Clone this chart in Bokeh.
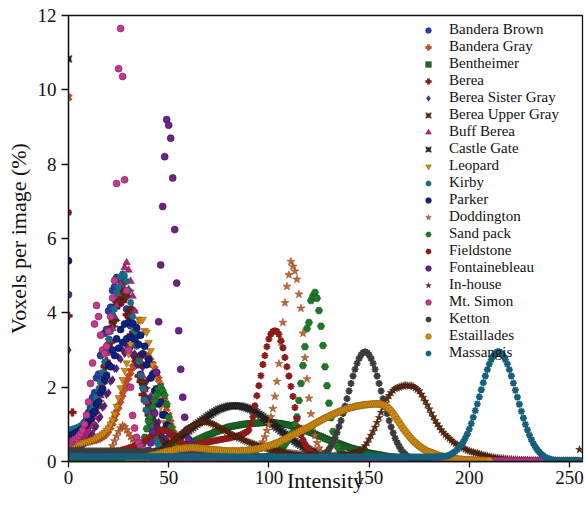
import math
from bokeh.plotting import figure
from bokeh.models import ColumnDataSource, Legend, LegendItem, FixedTicker
from bokeh.embed import file_html
from bokeh.resources import INLINE

# ---------------- data: voxel fraction (%) per intensity value ----------------
x_ticks = [0, 50, 100, 150, 200, 250]
y_ticks = [0, 2, 4, 6, 8, 10, 12]

bandera_brown_start = 0
bandera_brown = [4.49, 0.62, 0.66, 0.68, 0.74, 0.78, 0.86, 0.92, 1.05, 1.12,
                 1.32, 1.45, 1.72, 1.85, 2.25, 2.35, 2.85, 2.95, 3.45, 3.55,
                 4.05, 4.15, 4.6, 4.7, 4.95, 4.9, 4.88, 4.6, 4.55, 4.1,
                 3.95, 3.65, 3.35, 3.15, 2.8, 2.6, 2.35, 2.1, 1.95, 1.7,
                 1.55, 1.35, 1.22, 1.05, 0.95, 0.82, 0.74, 0.63, 0.57, 0.49,
                 0.44, 0.38, 0.34, 0.3, 0.27, 0.24, 0.21, 0.19, 0.17, 0.15,
                 0.14, 0.12, 0.11, 0.1, 0.09, 0.08]

bandera_gray_start = 0
bandera_gray = [9.8, 0.45, 0.46, 0.46, 0.47, 0.48, 0.49, 0.5, 0.51, 0.52,
                0.53, 0.54, 0.56, 0.57, 0.59, 0.61, 0.64, 0.67, 0.71, 0.77,
                0.84, 0.93, 1.04, 1.17, 1.32, 1.48, 1.64, 1.8, 1.96, 2.12,
                2.27, 2.41, 2.54, 2.65, 2.74, 2.8, 2.85, 2.87, 2.87, 2.84,
                2.79, 2.71, 2.61, 2.49, 2.36, 2.21, 2.04, 1.86, 1.64, 1.43,
                1.24, 1.05, 0.88, 0.73, 0.6, 0.48, 0.39, 0.31, 0.25, 0.2,
                0.16, 0.13, 0.1, 0.08, 0.07, 0.06]

bentheimer_start = 0
bentheimer = [0.1, 0.1, 0.1, 0.1, 0.1, 0.11, 0.11, 0.11, 0.11, 0.11,
              0.11, 0.11, 0.11, 0.12, 0.12, 0.12, 0.12, 0.12, 0.13, 0.13,
              0.13, 0.13, 0.14, 0.14, 0.14, 0.14, 0.15, 0.15, 0.15, 0.16,
              0.16, 0.16, 0.17, 0.17, 0.18, 0.19, 0.19, 0.2, 0.21, 0.21,
              0.22, 0.23, 0.24, 0.25, 0.26, 0.27, 0.28, 0.3, 0.31, 0.32,
              0.33, 0.34, 0.36, 0.37, 0.38, 0.4, 0.41, 0.43, 0.44, 0.46,
              0.47, 0.5, 0.52, 0.55, 0.57, 0.6, 0.62, 0.65, 0.67, 0.7,
              0.72, 0.74, 0.76, 0.79, 0.81, 0.83, 0.85, 0.87, 0.89, 0.91,
              0.93, 0.94, 0.95, 0.96, 0.97, 0.98, 0.99, 1.0, 1.01, 1.01,
              1.02, 1.02, 1.03, 1.03, 1.03, 1.04, 1.04, 1.04, 1.05, 1.05,
              1.05, 1.05, 1.04, 1.04, 1.03, 1.03, 1.02, 1.01, 1.0, 0.99,
              0.98, 0.96, 0.95, 0.93, 0.91, 0.89, 0.87, 0.85, 0.83, 0.82,
              0.8, 0.78, 0.76, 0.74, 0.71, 0.69, 0.67, 0.65, 0.62, 0.6,
              0.58, 0.56, 0.54, 0.52, 0.5, 0.48, 0.46, 0.44, 0.42, 0.4,
              0.38, 0.36, 0.35, 0.33, 0.32, 0.3, 0.29, 0.27, 0.26, 0.24,
              0.23, 0.22, 0.21, 0.2, 0.19, 0.18, 0.17, 0.16, 0.15, 0.14,
              0.13, 0.13, 0.12, 0.12, 0.11, 0.11, 0.1, 0.1, 0.09, 0.09,
              0.08, 0.08, 0.08, 0.07, 0.07, 0.07, 0.06, 0.06, 0.06, 0.05,
              0.05, 0.05, 0.05, 0.04, 0.04, 0.04, 0.04, 0.03, 0.03, 0.03, 0.03]

berea_start = 0
berea = [3.92, 0.55, 1.32, 0.6, 0.62, 0.66, 0.7, 0.76, 0.82, 0.9,
         1.0, 1.1, 1.24, 1.38, 1.56, 1.75, 2.0, 2.2, 2.55, 2.7,
         3.15, 3.25, 3.75, 3.8, 4.3, 4.2, 4.45, 4.3, 4.4, 3.95,
         3.9, 3.4, 3.3, 2.85, 2.7, 2.3, 2.15, 1.8, 1.65, 1.38,
         1.25, 1.02, 0.93, 0.75, 0.68, 0.55, 0.5, 0.4, 0.37, 0.3,
         0.27, 0.23, 0.21, 0.18, 0.16, 0.14, 0.12, 0.11, 0.1, 0.09, 0.08]

berea_sister_gray_start = 0
berea_sister_gray = [3.0, 0.3, 0.32, 0.33, 0.35, 0.38, 0.4, 0.45, 0.48, 0.55,
                     0.6, 0.7, 0.75, 0.9, 0.95, 1.15, 1.2, 1.45, 1.5, 1.8,
                     1.85, 2.15, 2.2, 2.5, 2.5, 2.8, 2.75, 3.0, 2.9, 3.1,
                     2.95, 3.05, 2.85, 2.9, 2.6, 2.75, 2.3, 2.53, 1.95, 2.15,
                     1.55, 1.75, 1.2, 1.35, 0.95, 1.06, 0.72, 0.85, 0.55, 0.62,
                     0.42, 0.45, 0.32, 0.34, 0.25, 0.26, 0.2, 0.2, 0.16, 0.15, 0.12]

berea_upper_gray_start = 0
berea_upper_gray = [0.65, 0.66, 0.67, 0.69, 0.71, 0.73, 0.76, 0.8, 0.85, 0.9,
                    0.98, 1.06, 1.17, 1.3, 1.45, 1.63, 1.85, 2.1, 2.38, 2.6,
                    3.0, 3.2, 3.64, 3.8, 4.22, 4.3, 4.65, 4.5, 4.82, 4.45,
                    4.6, 4.1, 4.06, 3.5, 3.36, 2.8, 2.64, 2.15, 1.98, 1.6,
                    1.44, 1.15, 1.03, 0.82, 0.74, 0.6, 0.54, 0.45, 0.41, 0.35,
                    0.32, 0.28, 0.25, 0.22, 0.2, 0.18, 0.16, 0.14, 0.13, 0.12, 0.11]

buff_berea_start = 0
buff_berea = [0.55, 0.56, 0.57, 0.58, 0.6, 0.62, 0.65, 0.68, 0.72, 0.78,
              0.85, 0.95, 1.06, 1.2, 1.36, 1.55, 1.77, 2.02, 2.3, 2.6,
              2.92, 3.25, 3.58, 3.9, 4.2, 4.5, 4.78, 5.02, 5.22, 5.35,
              5.15, 4.85, 4.45, 4.05, 3.6, 3.15, 2.7, 2.3, 1.93, 1.6,
              1.32, 1.08, 0.88, 0.72, 0.59, 0.48, 0.4, 0.33, 0.28, 0.24,
              0.2, 0.17, 0.15, 0.13, 0.11, 0.1, 0.09, 0.08, 0.07, 0.06, 0.05]

castle_gate_start = 0
castle_gate = [10.83, 0.0, 0.0, 0.0, 0.0, 0.0, 0.0, 0.0, 0.0, 0.0,
               0.0, 0.0, 0.0, 0.0, 0.0, 0.0, 0.01, 0.01, 0.01, 0.01,
               0.01, 0.02, 0.02, 0.02, 0.03, 0.03, 0.04, 0.04, 0.05, 0.06,
               0.06, 0.07, 0.08, 0.09, 0.1, 0.11, 0.12, 0.14, 0.15, 0.17,
               0.18, 0.2, 0.22, 0.25, 0.27, 0.29, 0.32, 0.35, 0.37, 0.4,
               0.44, 0.47, 0.5, 0.54, 0.58, 0.62, 0.66, 0.7, 0.74, 0.78,
               0.82, 0.87, 0.91, 0.95, 1.0, 1.04, 1.08, 1.12, 1.16, 1.2,
               1.24, 1.27, 1.31, 1.34, 1.37, 1.4, 1.42, 1.44, 1.46, 1.47,
               1.49, 1.49, 1.5, 1.5, 1.5, 1.49, 1.49, 1.47, 1.46, 1.44,
               1.42, 1.4, 1.37, 1.34, 1.31, 1.27, 1.24, 1.2, 1.16, 1.12,
               1.08, 1.04, 1.0, 0.95, 0.91, 0.87, 0.82, 0.78, 0.74, 0.7,
               0.66, 0.62, 0.58, 0.54, 0.5, 0.47, 0.44, 0.4, 0.37, 0.35,
               0.32, 0.29, 0.27, 0.25, 0.22, 0.2, 0.18, 0.17, 0.15, 0.14,
               0.12, 0.11, 0.1, 0.09, 0.08, 0.07, 0.06, 0.06, 0.05, 0.04,
               0.04, 0.03, 0.03, 0.03, 0.02, 0.02, 0.02, 0.02, 0.01, 0.01, 0.01]

leopard_start = 0
leopard = [0.45, 0.46, 0.46, 0.47, 0.48, 0.49, 0.5, 0.51, 0.52, 0.54,
           0.55, 0.57, 0.59, 0.61, 0.64, 0.67, 0.7, 0.74, 0.78, 0.84,
           0.9, 1.0, 1.12, 1.28, 1.48, 1.72, 1.98, 2.2, 2.45, 2.65,
           2.9, 3.15, 3.35, 3.54, 3.7, 3.83, 3.8, 3.82, 3.52, 3.48,
           3.2, 2.98, 2.6, 2.3, 1.98, 1.72, 1.48, 1.3, 1.05, 0.9,
           0.76, 0.65, 0.55, 0.47, 0.4, 0.35, 0.3, 0.26, 0.23, 0.2,
           0.18, 0.16, 0.14, 0.13, 0.12, 0.11, 0.1, 0.09, 0.08, 0.08, 0.07]

kirby_start = 0
kirby = [0.85, 0.86, 0.87, 0.89, 0.91, 0.93, 0.96, 1.0, 1.05, 1.12,
         1.2, 1.3, 1.42, 1.56, 1.73, 1.93, 2.15, 2.4, 2.68, 2.98,
         3.3, 3.5, 3.95, 4.1, 4.55, 4.7, 4.97, 5.05, 5.0, 4.85,
         4.6, 4.28, 3.9, 3.5, 3.1, 2.7, 2.32, 1.97, 1.66, 1.38,
         1.14, 0.94, 0.78, 0.64, 0.53, 0.44, 0.37, 0.31, 0.27, 0.23,
         0.2, 0.18, 0.16, 0.14, 0.13, 0.12, 0.11, 0.1, 0.09, 0.09, 0.08]

parker_start = 0
parker = [5.4, 0.7, 0.72, 0.75, 0.78, 0.8, 0.85, 0.88, 0.95, 1.0,
          1.1, 1.15, 1.3, 1.35, 1.55, 1.6, 1.85, 1.95, 2.2, 2.3,
          2.6, 2.55, 3.0, 2.85, 3.3, 3.05, 3.55, 3.2, 3.7, 3.3,
          3.75, 3.35, 3.72, 3.3, 3.6, 3.15, 3.4, 2.9, 3.1, 2.6,
          2.75, 2.25, 2.35, 1.9, 1.95, 1.55, 1.6, 1.25, 1.25, 0.98,
          0.95, 0.75, 0.72, 0.57, 0.54, 0.43, 0.4, 0.32, 0.3, 0.24,
          0.22, 0.18, 0.16, 0.13, 0.12, 0.1]

doddington_start = 0
doddington = [0.06, 0.06, 0.06, 0.06, 0.06, 0.06, 0.06, 0.06, 0.06, 0.06,
              0.07, 0.07, 0.07, 0.07, 0.08, 0.08, 0.09, 0.1, 0.12, 0.16,
              0.22, 0.31, 0.42, 0.55, 0.68, 0.8, 0.9, 0.97, 0.93, 0.85,
              0.76, 0.67, 0.59, 0.52, 0.46, 0.4, 0.35, 0.3, 0.26, 0.22,
              0.19, 0.17, 0.15, 0.14, 0.13, 0.12, 0.12, 0.12, 0.12, 0.12,
              0.12, 0.12, 0.12, 0.12, 0.12, 0.12, 0.12, 0.12, 0.12, 0.12,
              0.11, 0.11, 0.11, 0.11, 0.11, 0.11, 0.11, 0.11, 0.11, 0.11,
              0.11, 0.11, 0.11, 0.11, 0.11, 0.11, 0.11, 0.11, 0.11, 0.11,
              0.11, 0.11, 0.11, 0.11, 0.11, 0.11, 0.11, 0.12, 0.12, 0.13,
              0.14, 0.15, 0.18, 0.22, 0.28, 0.35, 0.43, 0.52, 0.66, 0.83,
              1.0, 1.2, 1.42, 1.75, 2.15, 2.63, 3.2, 3.74, 4.27, 4.71,
              5.02, 5.38, 5.25, 5.12, 4.9, 4.5, 4.12, 3.45, 2.79, 2.22,
              1.7, 1.28, 0.95, 0.7, 0.5, 0.36, 0.26, 0.19, 0.14, 0.1,
              0.08, 0.06, 0.05, 0.04, 0.03, 0.03]

sand_pack_start = 0
sand_pack = [0.05, 0.05, 0.05, 0.05, 0.05, 0.05, 0.05, 0.05, 0.05, 0.05,
             0.05, 0.05, 0.05, 0.05, 0.05, 0.06, 0.06, 0.06, 0.06, 0.06,
             0.06, 0.06, 0.06, 0.07, 0.07, 0.07, 0.07, 0.07, 0.08, 0.08,
             0.08, 0.09, 0.1, 0.12, 0.15, 0.2, 0.3, 0.45, 0.65, 0.88,
             1.08, 1.22, 1.46, 1.64, 1.8, 1.95, 2.0, 1.9, 1.78, 1.55,
             1.19, 0.92, 0.74, 0.55, 0.42, 0.32, 0.25, 0.2, 0.17, 0.15,
             0.14, 0.13, 0.13, 0.13, 0.13, 0.13, 0.13, 0.13, 0.13, 0.13,
             0.13, 0.13, 0.13, 0.13, 0.13, 0.12, 0.12, 0.12, 0.12, 0.12,
             0.12, 0.12, 0.12, 0.12, 0.12, 0.12, 0.12, 0.12, 0.12, 0.12,
             0.12, 0.12, 0.12, 0.12, 0.12, 0.12, 0.12, 0.12, 0.12, 0.13,
             0.14, 0.16, 0.18, 0.21, 0.24, 0.28, 0.33, 0.39, 0.46, 0.55,
             0.64, 0.72, 0.79, 1.0, 1.2, 1.64, 2.1, 2.58, 3.09, 3.58,
             3.74, 4.33, 4.45, 4.55, 4.39, 4.06, 3.64, 3.12, 2.55, 2.04,
             1.57, 1.18, 0.81, 0.56, 0.42, 0.34, 0.26, 0.2, 0.16, 0.13,
             0.1, 0.08, 0.07, 0.06, 0.05, 0.04]

fieldstone_start = 0
fieldstone = [6.7, 0.15, 0.15, 0.15, 0.15, 0.16, 0.16, 0.16, 0.17, 0.17,
              0.18, 0.18, 0.19, 0.19, 0.2, 0.2, 0.21, 0.22, 0.22, 0.23,
              0.24, 0.25, 0.26, 0.27, 0.28, 0.29, 0.3, 0.31, 0.33, 0.34,
              0.36, 0.38, 0.4, 0.42, 0.44, 0.46, 0.49, 0.52, 0.55, 0.59,
              0.63, 0.67, 0.71, 0.75, 0.79, 0.82, 0.84, 0.85, 0.84, 0.82,
              0.79, 0.75, 0.7, 0.65, 0.6, 0.55, 0.51, 0.48, 0.45, 0.44,
              0.43, 0.44, 0.45, 0.46, 0.47, 0.48, 0.49, 0.5, 0.51, 0.52,
              0.53, 0.54, 0.55, 0.56, 0.57, 0.58, 0.59, 0.6, 0.61, 0.62,
              0.63, 0.64, 0.66, 0.67, 0.68, 0.7, 0.72, 0.74, 0.77, 0.8,
              0.85, 1.0, 1.2, 1.5, 1.77, 2.04, 2.31, 2.61, 2.85, 3.09,
              3.3, 3.43, 3.5, 3.52, 3.5, 3.42, 3.25, 3.06, 2.8, 2.55,
              2.3, 2.02, 1.75, 1.45, 1.15, 0.9, 0.72, 0.58, 0.47, 0.38,
              0.31, 0.26, 0.22, 0.19, 0.16, 0.14, 0.12, 0.11, 0.1, 0.09,
              0.08, 0.07, 0.07, 0.06, 0.06, 0.05, 0.05, 0.04, 0.04, 0.04, 0.03]

fontainebleau_start = 0
fontainebleau = [0.2, 0.2, 0.2, 0.2, 0.2, 0.2, 0.2, 0.2, 0.2, 0.2,
                 0.2, 0.2, 0.2, 0.2, 0.2, 0.2, 0.2, 0.2, 0.2, 0.2,
                 0.2, 0.2, 0.2, 0.19, 0.19, 0.19, 0.19, 0.19, 0.18, 0.18,
                 0.18, 0.18, 0.17, 0.17, 0.17, 0.17, 0.17, 0.17, 0.18, 0.2,
                 0.3, 0.5, 0.8, 1.3, 2.4, 3.76, 5.29, 6.86, 8.2, 9.2,
                 9.05, 8.7, 7.63, 6.24, 4.8, 3.52, 2.48, 1.73, 1.19, 0.85,
                 0.6, 0.45, 0.35, 0.28, 0.22, 0.18, 0.15, 0.12, 0.1, 0.08, 0.06]

in_house_start = 40
in_house = [0.2, 0.21, 0.22, 0.24, 0.26, 0.28, 0.3, 0.33, 0.36, 0.4,
            0.44, 0.48, 0.52, 0.57, 0.62, 0.67, 0.72, 0.77, 0.82, 0.86,
            0.9, 0.93, 0.96, 0.99, 1.01, 1.03, 1.05, 1.06, 1.06, 1.06,
            1.05, 1.03, 1.01, 0.98, 0.95, 0.92, 0.89, 0.86, 0.83, 0.8,
            0.77, 0.74, 0.71, 0.68, 0.66, 0.63, 0.61, 0.58, 0.56, 0.54,
            0.52, 0.5, 0.48, 0.46, 0.44, 0.42, 0.4, 0.38, 0.36, 0.35,
            0.33, 0.32, 0.31, 0.3, 0.29, 0.28, 0.27, 0.26, 0.25, 0.24,
            0.23, 0.22, 0.21, 0.21, 0.2, 0.19, 0.19, 0.18, 0.18, 0.17,
            0.17, 0.17, 0.16, 0.16, 0.16, 0.16, 0.15, 0.15, 0.15, 0.15,
            0.15, 0.15, 0.15, 0.16, 0.16, 0.16, 0.17, 0.17, 0.18, 0.19,
            0.2, 0.21, 0.22, 0.23, 0.24, 0.25, 0.3, 0.35, 0.42, 0.5,
            0.6, 0.7, 0.81, 0.92, 1.05, 1.18, 1.32, 1.45, 1.57, 1.68,
            1.77, 1.85, 1.91, 1.96, 1.98, 2.0, 2.02, 2.03, 2.05, 2.04,
            2.03, 2.04, 2.02, 1.98, 1.94, 1.9, 1.81, 1.72, 1.62, 1.52,
            1.41, 1.3, 1.2, 1.1, 1.01, 0.93, 0.85, 0.78, 0.72, 0.67,
            0.62, 0.57, 0.52, 0.48, 0.45, 0.42, 0.39, 0.36, 0.33, 0.3,
            0.28, 0.26, 0.25, 0.23, 0.22, 0.2, 0.19, 0.17, 0.16, 0.15,
            0.13, 0.12, 0.11, 0.1, 0.1, 0.09, 0.08, 0.08, 0.07, 0.07,
            0.06, 0.06, 0.05, 0.05, 0.05, 0.04, 0.04, 0.04, 0.04, 0.04,
            0.03, 0.03, 0.03, 0.03, 0.03, 0.03, 0.03, 0.03, 0.02, 0.02,
            0.02, 0.02, 0.02, 0.02, 0.02, 0.02, 0.02, 0.02, 0.02, 0.02,
            0.02, 0.02, 0.02, 0.02, 0.02, 0.32]

mt_simon_start = 0
mt_simon = [0.55, 0.5, 0.55, 0.6, 0.62, 0.68, 0.75, 0.85, 1.0, 1.25,
            1.6, 2.1, 2.65, 3.7, 4.2, 3.9, 3.4, 3.0, 2.9, 3.1,
            3.5, 3.9, 4.4, 4.87, 7.48, 10.57, 11.65, 10.36, 7.58, 4.6,
            3.0, 2.0, 1.24, 0.9, 0.65, 0.5, 0.4, 0.32, 0.25, 0.2,
            0.16, 0.12, 0.1, 0.08, 0.06, 0.05, 0.04, 0.04, 0.03, 0.03,
            0.03, 0.03, 0.03, 0.03, 0.03, 0.03, 0.03, 0.03, 0.03, 0.03,
            0.02, 0.02, 0.02, 0.02, 0.02, 0.02, 0.02, 0.02, 0.02, 0.02,
            0.02, 0.02, 0.02, 0.02, 0.02, 0.02, 0.02, 0.02, 0.02, 0.02,
            0.02, 0.02, 0.02, 0.02, 0.02, 0.02, 0.02, 0.02, 0.02, 0.02,
            0.02, 0.02, 0.02, 0.02, 0.02, 0.02, 0.02, 0.02, 0.02, 0.02,
            0.02, 0.02, 0.02, 0.02, 0.02, 0.02, 0.02, 0.02, 0.02, 0.02,
            0.02, 0.02, 0.02, 0.02, 0.02, 0.02, 0.02, 0.02, 0.02, 0.02,
            0.02, 0.02, 0.02, 0.02, 0.02, 0.02, 0.02, 0.02, 0.02, 0.02,
            0.02, 0.02, 0.02, 0.02, 0.02, 0.02, 0.02, 0.02, 0.02, 0.02,
            0.02, 0.02, 0.02, 0.02, 0.02, 0.02, 0.02, 0.02, 0.02, 0.02,
            0.02, 0.02, 0.02, 0.02, 0.02, 0.02, 0.02, 0.02, 0.02, 0.02,
            0.02, 0.02, 0.02, 0.02, 0.02, 0.02, 0.02, 0.02, 0.02, 0.02,
            0.02, 0.02, 0.02, 0.02, 0.02, 0.02, 0.02, 0.02, 0.02, 0.02,
            0.02, 0.02, 0.02, 0.02, 0.02, 0.02, 0.02, 0.02, 0.02, 0.02,
            0.02, 0.02, 0.02, 0.02, 0.02, 0.02, 0.02, 0.02, 0.02, 0.02,
            0.02, 0.02, 0.02, 0.02, 0.02, 0.02, 0.02, 0.02, 0.02, 0.02,
            0.02, 0.02, 0.02, 0.02, 0.02, 0.02, 0.02, 0.02, 0.02, 0.02,
            0.02, 0.02, 0.02, 0.02, 0.02, 0.02, 0.02, 0.02, 0.02, 0.02,
            0.02, 0.02, 0.02, 0.02, 0.02, 0.02, 0.02, 0.02, 0.02, 0.02,
            0.02, 0.02, 0.02, 0.02, 0.02, 0.02, 0.02, 0.02, 0.02, 0.02,
            0.02, 0.02, 0.02, 0.02, 0.02, 0.02]

ketton_start = 0
ketton = [0.29, 0.29, 0.28, 0.28, 0.28, 0.28, 0.28, 0.28, 0.28, 0.28,
          0.28, 0.28, 0.28, 0.28, 0.28, 0.28, 0.28, 0.28, 0.28, 0.28,
          0.28, 0.28, 0.28, 0.28, 0.28, 0.27, 0.27, 0.27, 0.27, 0.27,
          0.27, 0.27, 0.27, 0.27, 0.27, 0.27, 0.26, 0.26, 0.26, 0.26,
          0.26, 0.26, 0.26, 0.25, 0.25, 0.25, 0.25, 0.25, 0.25, 0.24,
          0.24, 0.24, 0.24, 0.24, 0.23, 0.23, 0.23, 0.23, 0.22, 0.22,
          0.22, 0.22, 0.21, 0.21, 0.21, 0.21, 0.2, 0.2, 0.2, 0.19,
          0.19, 0.19, 0.19, 0.18, 0.18, 0.18, 0.17, 0.17, 0.17, 0.17,
          0.16, 0.16, 0.16, 0.15, 0.15, 0.15, 0.14, 0.14, 0.14, 0.13,
          0.13, 0.13, 0.12, 0.12, 0.12, 0.11, 0.11, 0.11, 0.1, 0.1,
          0.1, 0.09, 0.09, 0.09, 0.08, 0.08, 0.08, 0.07, 0.07, 0.07,
          0.07, 0.06, 0.06, 0.06, 0.06, 0.05, 0.05, 0.05, 0.05, 0.05,
          0.05, 0.05, 0.05, 0.07, 0.08, 0.1, 0.13, 0.17, 0.21, 0.26,
          0.33, 0.42, 0.52, 0.64, 0.78, 0.94, 1.1, 1.29, 1.49, 1.69,
          1.9, 2.1, 2.3, 2.48, 2.64, 2.77, 2.87, 2.93, 2.95, 2.93,
          2.87, 2.77, 2.64, 2.48, 2.3, 2.1, 1.9, 1.69, 1.49, 1.29,
          1.1, 0.93, 0.77, 0.63, 0.51, 0.41, 0.32, 0.25, 0.2, 0.15,
          0.11, 0.08, 0.06, 0.05, 0.04, 0.03, 0.03, 0.02, 0.02, 0.02, 0.01]

estaillades_start = 30
estaillades = [0.05, 0.06, 0.06, 0.07, 0.08, 0.08, 0.09, 0.1, 0.11, 0.13,
               0.14, 0.15, 0.17, 0.18, 0.19, 0.21, 0.22, 0.24, 0.25, 0.27,
               0.28, 0.29, 0.3, 0.32, 0.33, 0.34, 0.35, 0.35, 0.36, 0.36,
               0.37, 0.37, 0.37, 0.37, 0.36, 0.36, 0.35, 0.35, 0.34, 0.34,
               0.33, 0.32, 0.32, 0.31, 0.31, 0.3, 0.3, 0.29, 0.29, 0.28,
               0.28, 0.28, 0.28, 0.28, 0.28, 0.28, 0.28, 0.29, 0.29, 0.3,
               0.3, 0.31, 0.32, 0.33, 0.34, 0.35, 0.36, 0.38, 0.39, 0.41,
               0.42, 0.44, 0.46, 0.48, 0.5, 0.52, 0.55, 0.58, 0.6, 0.63,
               0.66, 0.69, 0.72, 0.74, 0.77, 0.8, 0.83, 0.85, 0.88, 0.9,
               0.93, 0.96, 0.99, 1.02, 1.05, 1.08, 1.11, 1.14, 1.17, 1.19,
               1.22, 1.24, 1.27, 1.29, 1.32, 1.34, 1.36, 1.38, 1.4, 1.42,
               1.44, 1.45, 1.46, 1.48, 1.49, 1.5, 1.51, 1.52, 1.53, 1.53,
               1.54, 1.54, 1.55, 1.55, 1.55, 1.55, 1.54, 1.52, 1.5, 1.47,
               1.42, 1.36, 1.29, 1.21, 1.13, 1.05, 0.97, 0.89, 0.82, 0.75,
               0.68, 0.62, 0.56, 0.51, 0.46, 0.42, 0.38, 0.34, 0.31, 0.28,
               0.26, 0.24, 0.22, 0.2, 0.18, 0.16, 0.15, 0.13, 0.12, 0.11,
               0.1, 0.09, 0.08, 0.08, 0.07, 0.06, 0.06, 0.05, 0.05, 0.05,
               0.04, 0.04, 0.04, 0.03, 0.03, 0.03, 0.03, 0.03, 0.02, 0.02, 0.02]

massangis_start = 0
massangis = [0.15, 0.15, 0.14, 0.14, 0.14, 0.14, 0.14, 0.14, 0.14, 0.14,
             0.13, 0.13, 0.13, 0.13, 0.13, 0.13, 0.13, 0.13, 0.13, 0.13,
             0.13, 0.13, 0.13, 0.13, 0.13, 0.13, 0.13, 0.13, 0.13, 0.13,
             0.13, 0.13, 0.13, 0.13, 0.13, 0.13, 0.13, 0.13, 0.13, 0.13,
             0.13, 0.13, 0.13, 0.13, 0.13, 0.13, 0.13, 0.13, 0.13, 0.13,
             0.13, 0.13, 0.13, 0.13, 0.13, 0.13, 0.13, 0.13, 0.13, 0.13,
             0.13, 0.13, 0.13, 0.13, 0.13, 0.13, 0.13, 0.13, 0.13, 0.13,
             0.13, 0.13, 0.13, 0.13, 0.13, 0.13, 0.13, 0.13, 0.13, 0.13,
             0.12, 0.12, 0.12, 0.12, 0.12, 0.12, 0.12, 0.12, 0.12, 0.12,
             0.12, 0.12, 0.12, 0.12, 0.12, 0.12, 0.12, 0.12, 0.12, 0.12,
             0.12, 0.12, 0.12, 0.12, 0.12, 0.12, 0.12, 0.12, 0.12, 0.12,
             0.12, 0.12, 0.12, 0.12, 0.12, 0.12, 0.12, 0.12, 0.12, 0.12,
             0.12, 0.12, 0.12, 0.12, 0.12, 0.12, 0.12, 0.12, 0.12, 0.12,
             0.12, 0.12, 0.12, 0.12, 0.12, 0.12, 0.12, 0.12, 0.12, 0.12,
             0.12, 0.12, 0.12, 0.12, 0.12, 0.12, 0.12, 0.12, 0.12, 0.12,
             0.12, 0.12, 0.12, 0.12, 0.12, 0.12, 0.12, 0.12, 0.12, 0.12,
             0.12, 0.12, 0.12, 0.12, 0.12, 0.12, 0.12, 0.12, 0.12, 0.12,
             0.12, 0.12, 0.12, 0.12, 0.12, 0.12, 0.12, 0.12, 0.12, 0.12,
             0.12, 0.12, 0.12, 0.12, 0.13, 0.13, 0.13, 0.14, 0.14, 0.15,
             0.17, 0.2, 0.23, 0.27, 0.32, 0.38, 0.45, 0.53, 0.63, 0.74,
             0.87, 1.02, 1.19, 1.37, 1.55, 1.74, 1.93, 2.12, 2.3, 2.47,
             2.62, 2.74, 2.84, 2.91, 2.95, 2.95, 2.91, 2.84, 2.74, 2.62,
             2.47, 2.3, 2.11, 1.92, 1.73, 1.54, 1.35, 1.17, 1.0, 0.85,
             0.71, 0.59, 0.48, 0.39, 0.31, 0.25, 0.19, 0.15, 0.11, 0.09,
             0.07, 0.05, 0.04, 0.03, 0.03, 0.02, 0.02, 0.02, 0.02, 0.02,
             0.02, 0.02, 0.02, 0.02, 0.02, 0.02]

series = [
    ("Bandera Brown", bandera_brown_start, bandera_brown),
    ("Bandera Gray", bandera_gray_start, bandera_gray),
    ("Bentheimer", bentheimer_start, bentheimer),
    ("Berea", berea_start, berea),
    ("Berea Sister Gray", berea_sister_gray_start, berea_sister_gray),
    ("Berea Upper Gray", berea_upper_gray_start, berea_upper_gray),
    ("Buff Berea", buff_berea_start, buff_berea),
    ("Castle Gate", castle_gate_start, castle_gate),
    ("Leopard", leopard_start, leopard),
    ("Kirby", kirby_start, kirby),
    ("Parker", parker_start, parker),
    ("Doddington", doddington_start, doddington),
    ("Sand pack", sand_pack_start, sand_pack),
    ("Fieldstone", fieldstone_start, fieldstone),
    ("Fontainebleau", fontainebleau_start, fontainebleau),
    ("In-house", in_house_start, in_house),
    ("Mt. Simon", mt_simon_start, mt_simon),
    ("Ketton", ketton_start, ketton),
    ("Estaillades", estaillades_start, estaillades),
    ("Massangis", massangis_start, massangis),
]

# ---------------- styles ----------------
Q = math.pi / 4
styles = {
    "Bandera Brown":     dict(marker="circle", fill="#2541a3", line="#102066", size=7, angle=0, lw=0.6),
    "Bandera Gray":      dict(marker="plus", fill="#c84a22", line="#8a2e10", size=7.5, angle=Q, lw=0.5),
    "Bentheimer":        dict(marker="square", fill="#1f6d2b", line="#0f3d15", size=6, angle=0, lw=0.5),
    "Berea":             dict(marker="plus", fill="#8e1616", line="#5a0a0a", size=7.5, angle=0, lw=0.5),
    "Berea Sister Gray": dict(marker="diamond", fill="#5b2079", line="#36104a", size=8, angle=0, lw=0.5),
    "Berea Upper Gray":  dict(marker="square_pin", fill="#5b2d10", line="#3a1a06", size=8, angle=Q, lw=0.5),
    "Buff Berea":        dict(marker="triangle", fill="#b3237d", line="#6e1049", size=7.5, angle=0, lw=0.5),
    "Castle Gate":       dict(marker="square_pin", fill="#2b2b2b", line="#111111", size=7, angle=0, lw=0.5),
    "Leopard":           dict(marker="inverted_triangle", fill="#d08a12", line="#7a4f05", size=7.5, angle=0, lw=0.5),
    "Kirby":             dict(marker="asterisk", fill="#176b84", line="#176b84", size=7, angle=0, lw=1.9),
    "Parker":            dict(marker="circle", fill="#0d2180", line="#06113f", size=7, angle=0, lw=0.6),
    "Doddington":        dict(marker="star", fill="#c9672f", line="#7a3a14", size=8.5, angle=0, lw=0.5),
    "Sand pack":         dict(marker="hex", fill="#1d7a29", line="#0f4516", size=7.5, angle=0, lw=0.5),
    "Fieldstone":        dict(marker="asterisk", fill="#8e1b1b", line="#8e1b1b", size=7, angle=0, lw=1.9),
    "Fontainebleau":     dict(marker="circle", fill="#6b2386", line="#3f124f", size=7, angle=0, lw=0.6),
    "In-house":          dict(marker="star", fill="#5e2c10", line="#3a1808", size=8, angle=0, lw=0.5),
    "Mt. Simon":         dict(marker="circle", fill="#c13b8c", line="#7a2055", size=7, angle=0, lw=0.6),
    "Ketton":            dict(marker="asterisk", fill="#3c3c3c", line="#3c3c3c", size=7, angle=0, lw=1.9),
    "Estaillades":       dict(marker="circle", fill="#d28d16", line="#8a5a06", size=7, angle=0, lw=0.6),
    "Massangis":         dict(marker="asterisk", fill="#175f7c", line="#175f7c", size=7, angle=0, lw=1.9),
}

FONT = "Liberation Serif"

p = figure(width=585, height=517, x_range=(0, 256.5), y_range=(0, 12),
           output_backend="svg", toolbar_location=None,
           min_border_left=68, min_border_right=3, min_border_top=15, min_border_bottom=56,
           background_fill_color="white", border_fill_color="white")

items = []
for name, start, vals in series:
    st = styles[name]
    src = ColumnDataSource(data=dict(x=list(range(start, start + len(vals))), y=vals))
    r = p.scatter("x", "y", source=src, marker=st["marker"], size=st["size"],
                  angle=st["angle"], fill_color=st["fill"], line_color=st["line"],
                  line_width=st["lw"])
    items.append(LegendItem(label=name, renderers=[r]))

legend = Legend(items=items, location=(352, 100), orientation="vertical",
                label_text_font=FONT, label_text_font_size="15px", label_text_color="#111111",
                label_height=14, glyph_height=14, glyph_width=16, spacing=0,
                padding=0, margin=0, label_standoff=13,
                border_line_color=None, background_fill_alpha=0)
p.add_layout(legend)

p.xgrid.visible = False
p.ygrid.visible = False
p.outline_line_color = "#111111"
p.outline_line_width = 1.3

p.xaxis.ticker = FixedTicker(ticks=x_ticks)
p.yaxis.ticker = FixedTicker(ticks=y_ticks)
for ax in (p.xaxis, p.yaxis):
    ax.axis_line_color = "#111111"
    ax.axis_line_width = 1.3
    ax.major_tick_line_color = "#111111"
    ax.major_tick_line_width = 1.3
    ax.major_tick_in = 0
    ax.minor_tick_line_color = None
    ax.major_label_text_font = FONT
    ax.major_label_text_font_size = "19px"
    ax.major_label_text_color = "#111111"
    ax.axis_label_text_font = FONT
    ax.axis_label_text_font_size = "22px"
    ax.axis_label_text_font_style = "normal"
    ax.axis_label_text_color = "#111111"

p.xaxis.major_tick_out = 6
p.xaxis.major_label_standoff = 3
p.xaxis.axis_label = "Intensity"
p.xaxis.axis_label_standoff = -19

p.yaxis.major_tick_out = 7
p.yaxis.major_label_standoff = 5
p.yaxis.axis_label = "Voxels per image (%)"
p.yaxis.axis_label_standoff = 4

open("out.html", "w").write(file_html(p, INLINE))
